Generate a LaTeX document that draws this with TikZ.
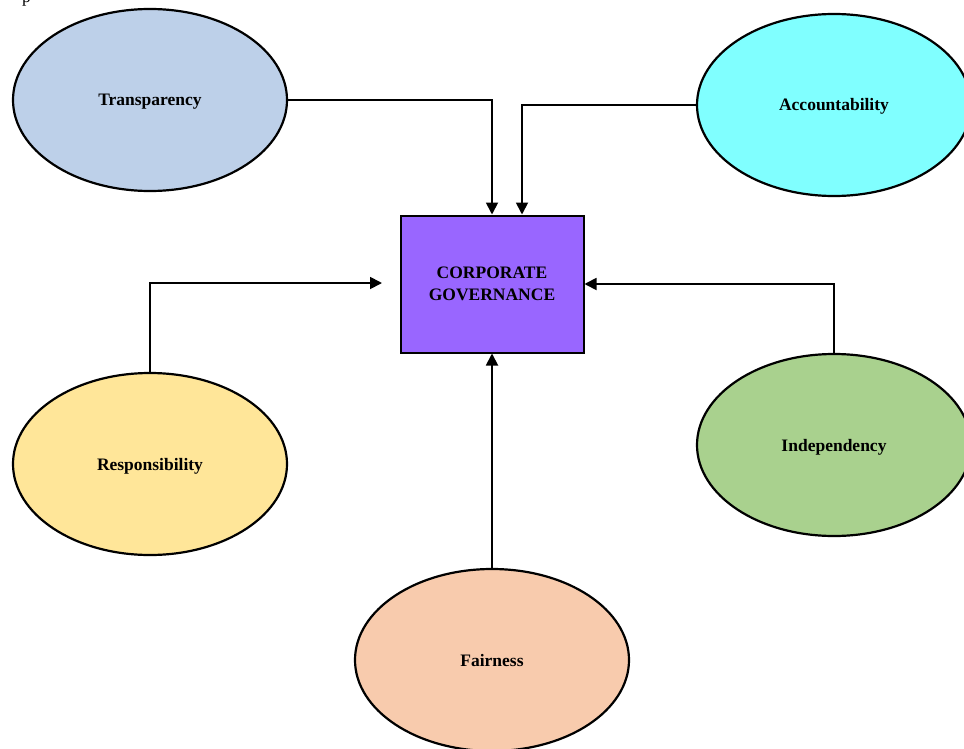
\documentclass[tikz,border=0pt]{standalone}
\usepackage{fontspec}
\setmainfont{Liberation Serif}
\usetikzlibrary{shapes.geometric,arrows.meta}
\definecolor{cTrans}{HTML}{BDD0E9}
\definecolor{cAcc}{HTML}{80FFFF}
\definecolor{cResp}{HTML}{FFE699}
\definecolor{cIndep}{HTML}{A9D18E}
\definecolor{cFair}{HTML}{F8CBAD}
\definecolor{cCore}{HTML}{9966FF}
\tikzset{
  principle/.style={ellipse, draw=black, line width=2.2pt, minimum width=274pt,
    minimum height=182pt, inner sep=0pt, text height=12pt, text depth=0pt,
    font=\fontsize{17.5}{20}\selectfont\bfseries},
  corebox/.style={rectangle, draw=black, line width=2pt, fill=cCore,
    minimum width=183pt, minimum height=137pt, inner sep=0pt, align=center,
    font=\fontsize{17.5}{22}\selectfont\bfseries},
  link/.style={line width=1.8pt, -{Triangle[length=12pt,width=12pt]}}
}
\begin{document}
\begin{tikzpicture}[x=1pt,y=-1pt]
  \useasboundingbox (0,0) rectangle (964,749);
  % descender of a line of running text above the figure
  \node[anchor=base west, inner sep=0pt, font=\fontsize{17.5}{20}\selectfont] (pfrag) at (22,2.2) {p};

  \node[corebox] (cg) at (492,284) {CORPORATE\\GOVERNANCE};

  \node[principle, fill=cTrans] (trans) at (150,100) {Transparency};
  \node[principle, fill=cAcc] (acc) at (834,105) {Accountability};
  \node[principle, fill=cResp] (resp) at (150,464) {Responsibility};
  \node[principle, fill=cIndep] (indep) at (834,445) {Independency};
  \node[principle, fill=cFair] (fair) at (492,660) {Fairness};

  \coordinate (respend) at (382,283);

  \draw[link] (trans.east) -| (cg.north);
  \draw[link] (acc.west) -| ([xshift=30pt]cg.north);
  \draw[link] (resp.north) |- (respend);
  \draw[link] (indep.north) |- (cg.east);
  \draw[link] (fair.north) -- (cg.south);
\end{tikzpicture}
\end{document}
